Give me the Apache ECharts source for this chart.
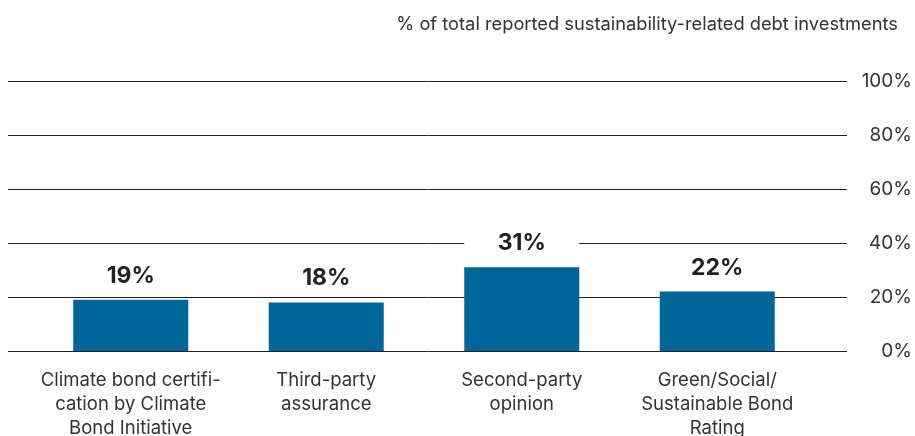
<!DOCTYPE html>
<html>
<head>
<meta charset="utf-8">
<script src="https://cdn.jsdelivr.net/npm/echarts@6/dist/echarts.min.js"></script>
<style>
  html, body { margin: 0; padding: 0; background: #fff; }
  #chart { width: 915px; height: 436px; }
</style>
</head>
<body>
<div id="chart"></div>
<script>
const categories = [
    'Climate bond certifi-\ncation by Climate\nBond Initiative',
    'Third-party\nassurance',
    'Second-party\nopinion',
    'Green/Social/\nSustainable Bond\nRating'
];
const shares = [19, 18, 31, 22];
const axisTitle = '% of total reported sustainability-related debt investments';

const FONT = 'Inter, "Noto Sans", sans-serif';
const TEXT = '#333';
const BAR = '#00669a';

const chart = echarts.init(document.getElementById('chart'));

const option = {
    backgroundColor: '#fff',
    animation: false,
    textStyle: { fontFamily: FONT },
    title: {
        text: axisTitle,
        right: 12,
        top: 11,
        textStyle: { fontFamily: FONT, fontSize: 18.3, fontWeight: 'normal', color: TEXT }
    },
    grid: [
        // full width grid for the gridlines and right axis labels
        { left: 8, right: 68, top: 81, bottom: 85, outerBoundsMode: 'none' },
        // narrower grid that holds the bars
        { left: 33, right: 100, top: 81, bottom: 85, outerBoundsMode: 'none' }
    ],
    xAxis: [
        { gridIndex: 0, type: 'value', show: false },
        {
            gridIndex: 1,
            type: 'category',
            data: categories,
            axisLine: { show: false },
            axisTick: { show: false },
            axisLabel: {
                color: TEXT,
                fontSize: 18.5,
                lineHeight: 24,
                margin: 17,
                interval: 0,
                fontFamily: FONT
            }
        }
    ],
    yAxis: [
        {
            gridIndex: 0,
            type: 'value',
            position: 'right',
            min: 0,
            max: 100,
            interval: 20,
            axisLine: { show: false },
            axisTick: { show: false },
            splitLine: { lineStyle: { color: '#222', width: 1 } },
            axisLabel: {
                formatter: '{value}%',
                align: 'right',
                margin: 65,
                color: TEXT,
                fontSize: 19,
                fontFamily: FONT
            }
        },
        { gridIndex: 1, type: 'value', min: 0, max: 100, show: false }
    ],
    series: [
        {
            type: 'bar',
            xAxisIndex: 1,
            yAxisIndex: 1,
            barWidth: 115,
            data: shares,
            itemStyle: { color: BAR },
            label: {
                show: true,
                position: 'top',
                distance: 9,
                formatter: '{c}%',
                fontSize: 23,
                fontWeight: 'bold',
                color: '#222',
                fontFamily: FONT,
                backgroundColor: '#fff',
                width: 115,
                align: 'center',
                lineHeight: 26,
                padding: [0, 0, 2, 0]
            }
        }
    ]
};

chart.setOption(option);
</script>
</body>
</html>
